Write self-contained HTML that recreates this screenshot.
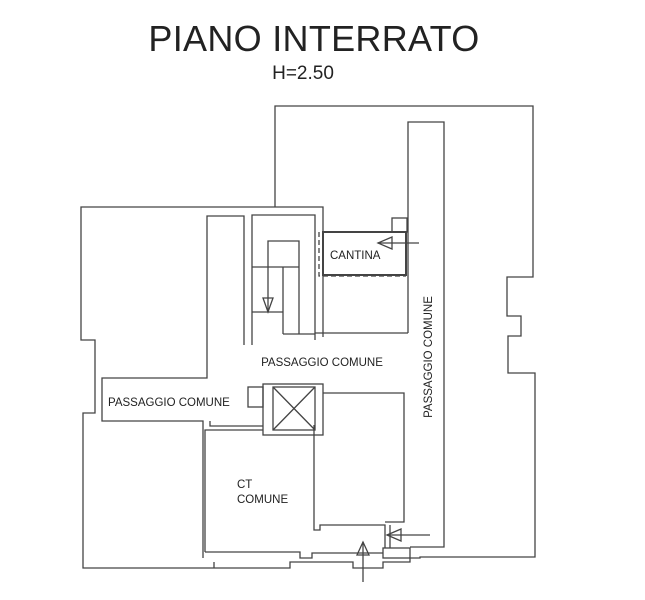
<!DOCTYPE html>
<html><head><meta charset="utf-8"><style>
body{margin:0;background:#fff;}
svg{display:block;}
text{font-family:"Liberation Sans",sans-serif;fill:#222;}
</style></head><body>
<svg width="645" height="600" viewBox="0 0 645 600" xmlns="http://www.w3.org/2000/svg">
<text x="314" y="51" font-size="36" text-anchor="middle" letter-spacing="0.3">PIANO INTERRATO</text>
<text x="303" y="79" font-size="19" text-anchor="middle">H=2.50</text>
<g fill="none" stroke="#444" stroke-width="1.3">
<polyline points="275,207 275,106 533,106 533,277 507,277 507,316 521,316 521,336 508,336 508,373 535,373 535,557 450,557 420,557 420,558 410,558 410,562 383,562 383,568 353,568 353,562 290,562 290,568 214,568 214,562 214,568 83,568 83,413 95,413 95,340 81,340 81,207 323,207 323,337"/>
<polyline points="408,190 408,122 444,122 444,547 410,547"/>
<line x1="408" y1="190" x2="408" y2="333"/>
<line x1="315" y1="333" x2="408" y2="333"/>
<polyline points="244,345 244,216 207,216 207,378 102,378 102,421 203,421 203,558"/>
<polyline points="252,345 252,215 315,215 315,340"/>
<polyline points="268,312 268,241 299,241 299,334"/>
<line x1="252" y1="267" x2="299" y2="267"/>
<line x1="283" y1="267" x2="283" y2="334"/>
<line x1="283" y1="334" x2="315" y2="334"/>
<line x1="252" y1="312" x2="283" y2="312"/>
<polygon points="263,298 273,298 268,312"/>
<rect x="323" y="232" width="83" height="43" stroke-width="2"/>
<rect x="392" y="218" width="15" height="14"/>
<polyline points="319,232 319,276 406,276" stroke-dasharray="5,3"/>
<line x1="378" y1="243" x2="419" y2="243"/>
<polygon points="378,243 392,237 392,249"/>
<rect x="263" y="384" width="60" height="51"/>
<rect x="273" y="387" width="42" height="43"/>
<line x1="273" y1="387" x2="315" y2="430"/><line x1="315" y1="387" x2="273" y2="430"/>
<rect x="248" y="387" width="15" height="20"/>
<polyline points="210,421 210,426 263,426"/>
<polyline points="205,552 205,430 263,430"/>
<polyline points="323,393 404,393 404,522 385,522"/>
<polyline points="314,425 314,530 320,530 320,525 385,525 385,548"/>
<polyline points="390,525 390,548"/>
<polyline points="205,552 300,552 300,558 312,558 312,553 383,553"/>
<rect x="383" y="548" width="27" height="10"/>
<line x1="387" y1="535" x2="430" y2="535"/>
<polygon points="387,535 401,529 401,541"/>
<line x1="363" y1="542" x2="363" y2="582"/>
<polygon points="363,542 357,555 369,555"/>
</g>
<g font-size="11.5">
<text x="330" y="259">CANTINA</text>
<text x="322" y="366" text-anchor="middle">PASSAGGIO COMUNE</text>
<text x="108" y="406">PASSAGGIO COMUNE</text>
<text x="237" y="488">CT</text>
<text x="237" y="503">COMUNE</text>
<text transform="translate(432,357) rotate(-90)" text-anchor="middle">PASSAGGIO COMUNE</text>
</g>
</svg>
</body></html>
